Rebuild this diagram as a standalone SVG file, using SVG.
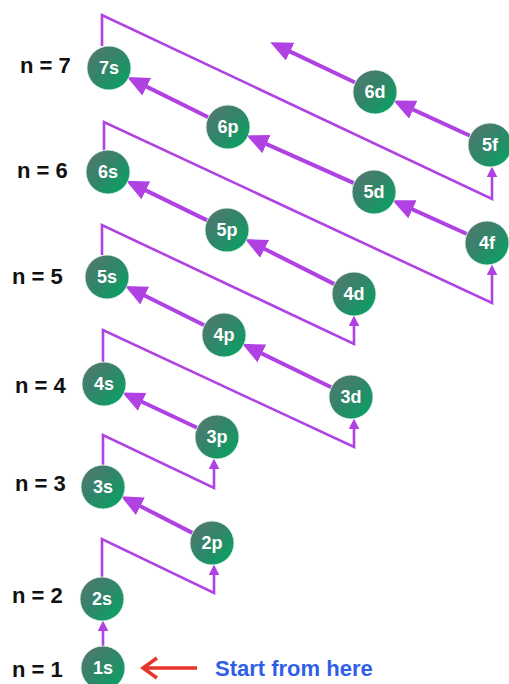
<svg xmlns="http://www.w3.org/2000/svg" width="509" height="684" viewBox="0 0 509 684">
<defs>
<linearGradient id="g" x1="0" y1="0" x2="1" y2="1">
<stop offset="0" stop-color="#5a7670"/>
<stop offset="0.45" stop-color="#33846a"/>
<stop offset="1" stop-color="#00a862"/>
</linearGradient>
<marker id="big" markerUnits="userSpaceOnUse" markerWidth="22" markerHeight="20" refX="11" refY="9" orient="auto" viewBox="0 0 20 18">
<path d="M0,0 L20,9 L0,18 z" fill="#b042e4"/>
</marker>
<marker id="sm" markerUnits="userSpaceOnUse" markerWidth="11" markerHeight="11" refX="4" refY="5" orient="auto" viewBox="0 0 10 10">
<path d="M0,0 L10,5 L0,10 z" fill="#b042e4"/>
</marker>
</defs>
<style>
.lvl{font-family:"Liberation Sans",Arial,sans-serif;font-weight:bold;font-size:22px;fill:#111}
.orb circle{fill:url(#g);stroke:#e8f4ee;stroke-width:0.8}
.orb text{font-family:"Liberation Sans",Arial,sans-serif;font-weight:bold;font-size:18px;fill:#fff;text-anchor:middle}
.arr{fill:none;stroke:#b042e4;stroke-width:4;marker-end:url(#big)}
.brk{fill:none;stroke:#b042e4;stroke-width:2.6;stroke-linejoin:miter;marker-end:url(#sm)}
</style>
<g id="levels">
<text class="lvl" x="20" y="73">n = 7</text>
<text class="lvl" x="17" y="178">n = 6</text>
<text class="lvl" x="12" y="284">n = 5</text>
<text class="lvl" x="15" y="393">n = 4</text>
<text class="lvl" x="15" y="491">n = 3</text>
<text class="lvl" x="12" y="603">n = 2</text>
<text class="lvl" x="12" y="677">n = 1</text>
</g>
<g id="connectors">
<path class="brk" d="M102,46 V15 L492,199 V173"/>
<path class="brk" d="M104,150 V122 L492,303 V271"/>
<path class="brk" d="M102,255 V225 L354,344 V322"/>
<path class="brk" d="M103,362 V330 L354,447 V425"/>
<path class="brk" d="M103,465 V435 L214,488 V465"/>
<path class="brk" d="M102,577 V539 L214,593 V571"/>
<path class="brk" d="M103,646 V627"/>
<path class="arr" d="M355.1,82.5 L279.2,46.4"/>
<path class="arr" d="M470,135.8 L402.3,104.6"/>
<path class="arr" d="M208.3,117.2 L135.9,81.4"/>
<path class="arr" d="M353.9,183.1 L255.4,139.2"/>
<path class="arr" d="M467,234 L401.4,204.4"/>
<path class="arr" d="M207.2,220.4 L135,185.1"/>
<path class="arr" d="M334.4,284.1 L253.8,243.5"/>
<path class="arr" d="M204.3,325.2 L133.9,290.3"/>
<path class="arr" d="M331.2,387.3 L251,348.2"/>
<path class="arr" d="M197.1,427.7 L131.2,396.7"/>
<path class="arr" d="M192.4,532.9 L129.7,500.7"/>
<path d="M197,668 H143 M157,658 L143,668 L157,678" fill="none" stroke="#e8352b" stroke-width="3.5" stroke-linejoin="miter"/>
</g>
<g id="n1s" class="orb"><circle cx="103" cy="668" r="22"/><text x="103" y="674">1s</text></g>
<g id="n2s" class="orb"><circle cx="102" cy="599" r="22"/><text x="102" y="605">2s</text></g>
<g id="n2p" class="orb"><circle cx="212" cy="543" r="22"/><text x="212" y="549">2p</text></g>
<g id="n3s" class="orb"><circle cx="103" cy="487" r="22"/><text x="103" y="493">3s</text></g>
<g id="n3p" class="orb"><circle cx="217" cy="437" r="22"/><text x="217" y="443">3p</text></g>
<g id="n3d" class="orb"><circle cx="351" cy="397" r="22"/><text x="351" y="403">3d</text></g>
<g id="n4s" class="orb"><circle cx="104" cy="384" r="22"/><text x="104" y="390">4s</text></g>
<g id="n4p" class="orb"><circle cx="224" cy="335" r="22"/><text x="224" y="341">4p</text></g>
<g id="n4d" class="orb"><circle cx="354" cy="294" r="22"/><text x="354" y="300">4d</text></g>
<g id="n4f" class="orb"><circle cx="487" cy="243" r="22"/><text x="487" y="249">4f</text></g>
<g id="n5s" class="orb"><circle cx="107" cy="277" r="22"/><text x="107" y="283">5s</text></g>
<g id="n5p" class="orb"><circle cx="227" cy="230" r="22"/><text x="227" y="236">5p</text></g>
<g id="n5d" class="orb"><circle cx="374" cy="192" r="22"/><text x="374" y="198">5d</text></g>
<g id="n5f" class="orb"><circle cx="490" cy="145" r="22"/><text x="490" y="151">5f</text></g>
<g id="n6s" class="orb"><circle cx="108" cy="172" r="22"/><text x="108" y="178">6s</text></g>
<g id="n6p" class="orb"><circle cx="228" cy="127" r="22"/><text x="228" y="133">6p</text></g>
<g id="n6d" class="orb"><circle cx="375" cy="92" r="22"/><text x="375" y="98">6d</text></g>
<g id="n7s" class="orb"><circle cx="109" cy="68" r="22"/><text x="109" y="74">7s</text></g>
<g id="start"><text x="215" y="676" font-family="'Liberation Sans',Arial,sans-serif" font-weight="bold" font-size="22" fill="#2f5fe8">Start from here</text></g>
</svg>
